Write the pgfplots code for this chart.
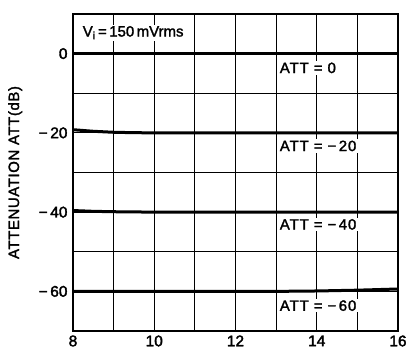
\documentclass[border=0pt]{standalone}
\usepackage{fontspec}
\setmainfont{Liberation Sans}[FakeBold=1.2]
\usepackage{pgfplots}
\pgfplotsset{compat=1.18}
\begin{document}
\begin{tikzpicture}
\path[use as bounding box] (-73bp,-20bp) rectangle (333bp,331bp);
\begin{axis}[
  scale only axis,
  width=325bp, height=317bp,
  xmin=8, xmax=16, ymin=-70, ymax=10,
  xtick={8,10,12,14,16},
  minor xtick={9,11,13,15},
  ytick={-60,-40,-20,0},
  yticklabels={−\,60,−\,40,−\,20,0},
  minor ytick={-70,-50,-30,-10},
  grid=both,
  grid style={black, line width=1bp},
  minor grid style={black, line width=1bp},
  major tick length=0pt, minor tick length=0pt,
  axis line style={line width=2.5bp},
  tick label style={font=\fontsize{15.5}{17}\selectfont\addfontfeature{FakeBold=2.2}},
  /pgf/number format/assume math mode=true,
  yticklabel style={xshift=-2bp},
  xticklabel style={yshift=-1bp},
  ylabel={ATTENUATION ATT(dB)},
  ylabel style={font=\fontsize{15}{17}\selectfont\addfontfeature{LetterSpace=4,FakeBold=1.8}, at={(axis description cs:-0.178,0.5)}, anchor=center, rotate=0},
  clip=false,
]
\addplot[black, line width=3bp, no marks] coordinates {(8,0) (16,0)};
\addplot[black, line width=3bp, no marks] coordinates {(8,-19.2) (8.5,-19.6) (9,-19.85) (9.5,-19.95) (10,-20) (16,-20)};
\addplot[black, line width=3bp, no marks] coordinates {(8,-39.6) (8.5,-39.8) (9,-39.9) (10,-40) (16,-40)};
\addplot[black, line width=3bp, no marks] coordinates {(8,-60) (13,-60) (14,-59.9) (15,-59.7) (16,-59.4)};
\tikzset{lab/.style={fill=white, inner sep=1.5bp, anchor=west, font=\fontsize{15}{17}\selectfont\addfontfeature{LetterSpace=6,FakeBold=1.8}}}
\node[lab] at (axis cs:13.05,-3.6) {ATT = 0};
\node[lab] at (axis cs:13.05,-23.3) {ATT = −\,20};
\node[lab] at (axis cs:13.05,-43.1) {ATT = −\,40};
\node[lab] at (axis cs:13.05,-63.6) {ATT = −\,60};
\node[fill=white, inner sep=1.5bp, anchor=west, font=\fontsize{15}{17}\selectfont\addfontfeature{FakeBold=1.8}] at (axis cs:8.2,5.3) {V\textsubscript{i}\,=\,150\,mVrms};
\end{axis}
\end{tikzpicture}
\end{document}
